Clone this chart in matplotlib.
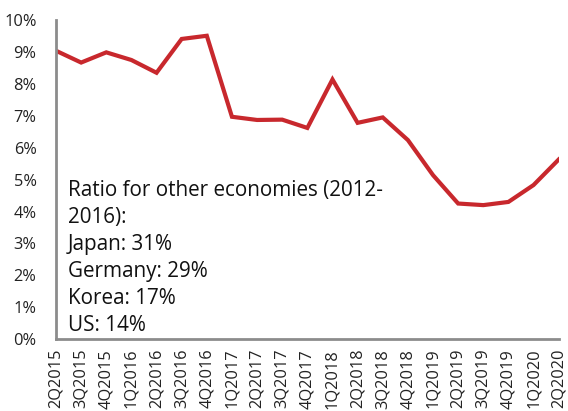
import numpy as np
import matplotlib
matplotlib.use('Agg')
import matplotlib.pyplot as plt
from matplotlib.ticker import PercentFormatter

plt.rcParams['font.family'] = ['Open Sans', 'DejaVu Sans']

# quarters and ratio (%)
quarters = ['2Q2015', '3Q2015', '4Q2015', '1Q2016', '2Q2016', '3Q2016', '4Q2016',
            '1Q2017', '2Q2017', '3Q2017', '4Q2017', '1Q2018', '2Q2018', '3Q2018',
            '4Q2018', '1Q2019', '2Q2019', '3Q2019', '4Q2019', '1Q2020', '2Q2020']
ratio = [9.04, 8.67, 8.99, 8.75, 8.35, 9.41, 9.51,
         6.97, 6.87, 6.88, 6.62, 8.14, 6.78, 6.95,
         6.24, 5.14, 4.25, 4.20, 4.30, 4.83, 5.63]

note = ['Ratio for other economies (2012-', '2016):', 'Japan: 31%',
        'Germany: 29%', 'Korea: 17%', 'US: 14%']

fig = plt.figure(figsize=(5.68, 4.11), dpi=100)
ax = fig.add_axes([0.0986, 0.175, 0.885, 0.776])

x = np.arange(len(quarters))
ax.plot(x, ratio, color='#C8282D', lw=3, solid_joinstyle='miter')

ax.set_xlim(0, len(quarters) - 1)
ax.set_ylim(0, 10)
ax.set_yticks(range(0, 11))
ax.yaxis.set_major_formatter(PercentFormatter(decimals=0))
ax.set_xticks(x)
ax.set_xticklabels(quarters, rotation=90)
ax.tick_params(length=0, labelsize=11.8, colors='#222222')
ax.tick_params(axis='x', pad=7)
ax.tick_params(axis='y', pad=14)

for s in ['top', 'right']:
    ax.spines[s].set_visible(False)
for s in ['left', 'bottom']:
    ax.spines[s].set_color('#8c8c8c')
    ax.spines[s].set_linewidth(2)

ax.text(0.024, 0.500, '\n'.join(note), transform=ax.transAxes,
        fontsize=14.9, va='top', ha='left', linespacing=1.38, color='#111111')

fig.savefig('out.png', dpi=100)
